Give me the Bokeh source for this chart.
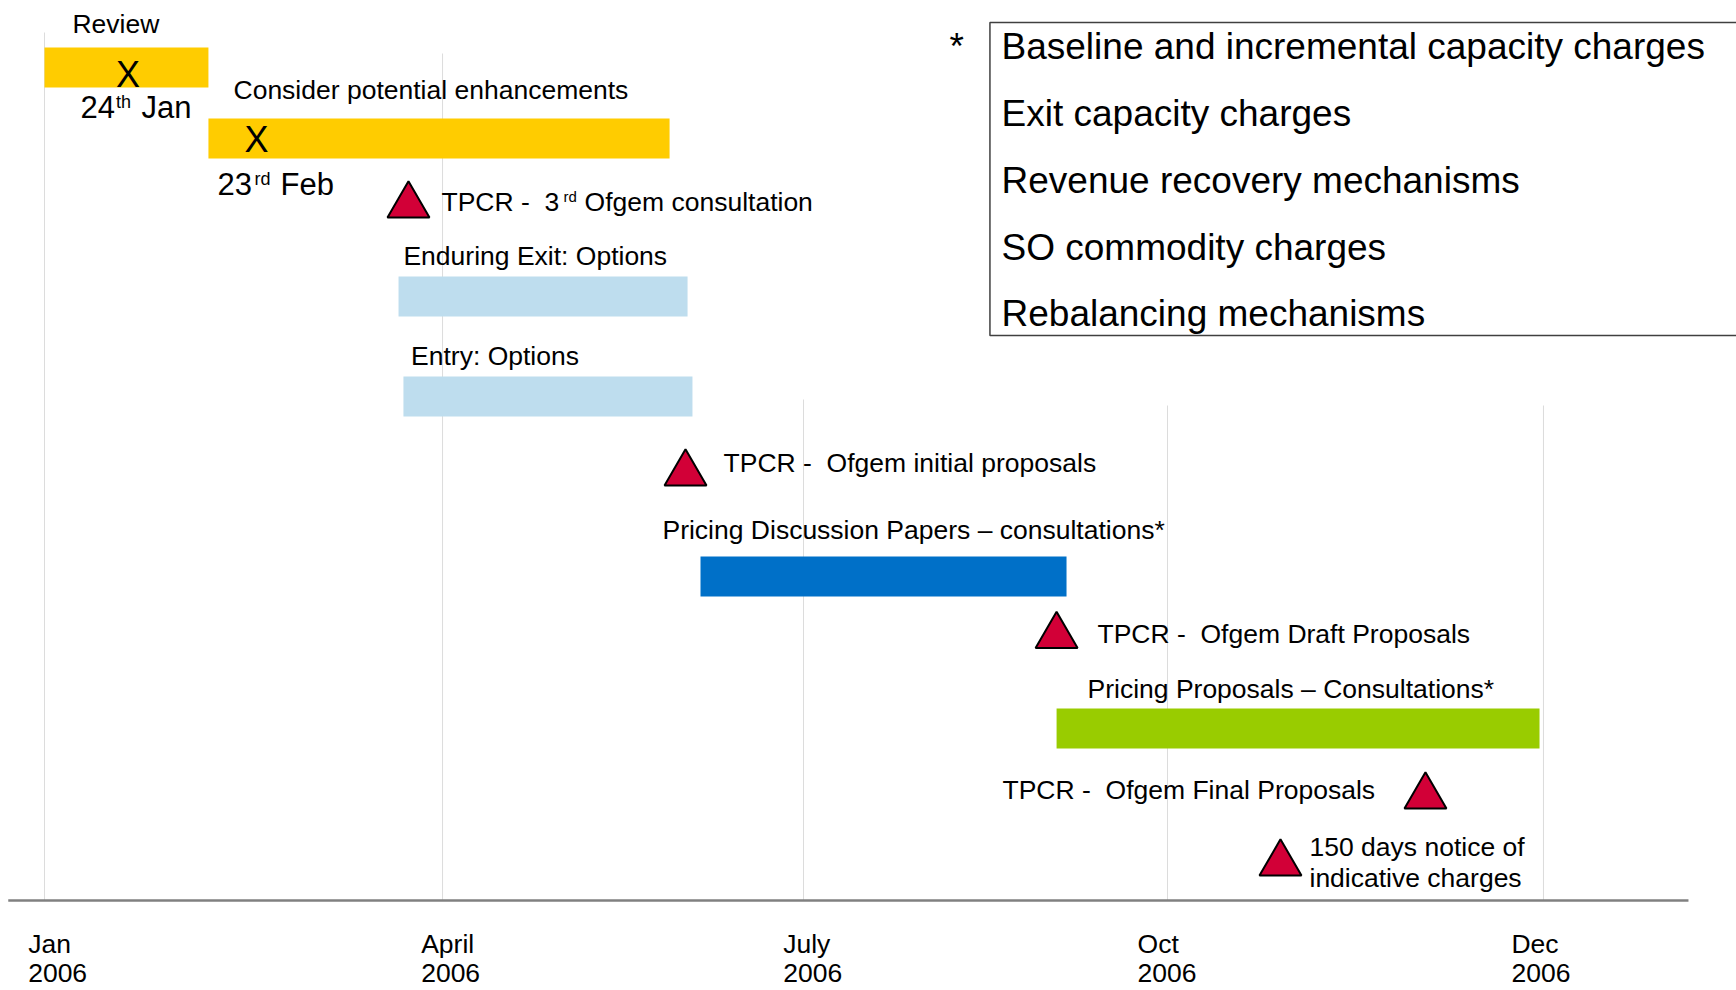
from bokeh.plotting import figure
from bokeh.models import Range1d, ColumnDataSource
from bokeh.core.properties import value
from bokeh.embed import file_html
from bokeh.resources import INLINE

# ---------------- data (timeline position in "months as drawn": Jan 2006 = 0, Dec 2006 = 11;
# vertical lane position in reference pixels, top = small) ----------------
month_names = ["Jan", "April", "July", "Oct", "Dec"]
month_years = ["2006", "2006", "2006", "2006", "2006"]
month_pos = [0.0, 2.921, 5.570, 8.241, 11.0]
month_label_pos = [-0.120, 2.764, 5.421, 8.021, 10.765]
grid_top = [32, 53, 399, 405, 405]
axis_span = [-0.266, 12.064]
axis_lane = 900

task_names = ["Review", "Consider potential enhancements", "Enduring Exit: Options",
              "Entry: Options", "Pricing Discussion Papers \u2013 consultations*",
              "Pricing Proposals \u2013 Consultations*"]
task_start = [0.0, 1.203, 2.598, 2.634, 4.814, 7.427]
task_end = [1.203, 4.587, 4.719, 4.755, 7.500, 10.971]
task_lane = [67, 138, 296, 396, 576, 728]
task_label_pos = [0.205, 1.387, 2.634, 2.690, 4.535, 7.654]
task_label_lane = [33, 99, 265, 365, 539, 698]

milestone_names = ["TPCR -  3rd Ofgem consultation", "TPCR -  Ofgem initial proposals",
                   "TPCR -  Ofgem Draft Proposals", "TPCR -  Ofgem Final Proposals",
                   "150 days notice of indicative charges"]
milestone_pos = [2.671, 4.704, 7.427, 10.134, 9.070]
milestone_lane = [205, 473, 635.5, 796, 863]

# milestone label pieces (plain part and superscript part)
ms_text = ["TPCR - \u00a03", "Ofgem consultation", "TPCR - \u00a0Ofgem initial proposals",
           "TPCR - \u00a0Ofgem Draft Proposals", "TPCR - \u00a0Ofgem Final Proposals",
           "150 days notice of", "indicative charges"]
ms_text_pos = [2.913, 3.963, 4.983, 7.727, 7.030, 9.283, 9.283]
ms_text_lane = [211, 211, 472, 643.6, 799.6, 856, 887]

# decision points on the yellow bars
x_marks = ["X", "X"]
x_mark_pos = [0.613, 1.556]
x_mark_lane = [87, 152]
date_text = ["24", "Jan", "23", "Feb"]
date_pos = [0.264, 0.712, 1.270, 1.732]
date_lane = [118, 118, 195, 195]
sup_text = ["th", "rd", "rd"]
sup_pos = [0.525, 1.541, 3.809]
sup_lane = [108, 185, 202]
sup_size = [18, 18, 15]

charge_items = ["Baseline and incremental capacity charges", "Exit capacity charges",
                "Revenue recovery mechanisms", "SO commodity charges", "Rebalancing mechanisms"]
charge_pos = 7.023
charge_lane = [59.3, 126.5, 193.5, 260.5, 327]
box_left, box_right, box_top, box_bottom = 6.938, 12.8, 22, 335
star_pos, star_lane = 6.641, 59.5

# ---------------- styles ----------------
FONT = value("Liberation Sans")
task_colors = ["#FFCC00", "#FFCC00", "#BEDDEE", "#BEDDEE", "#0070C8", "#99CC00"]
RED = "#D20037"
BASE_FIX = 0.37   # renderer places the alphabetic baseline about this many em low

W, H = 1736, 990
p = figure(width=W, height=H, output_backend="svg", toolbar_location=None,
           x_range=Range1d(-0.3229, 12.4165), y_range=Range1d(990, 0),
           x_axis_location=None, y_axis_location=None,
           min_border_left=0, min_border_right=0, min_border_top=0, min_border_bottom=0)
p.outline_line_color = None
p.xgrid.visible = False
p.ygrid.visible = False
p.background_fill_color = "white"
p.border_fill_color = "white"


def txt(xs, ys, texts, size, align="left"):
    sizes = size if isinstance(size, list) else [size] * len(texts)
    src = ColumnDataSource(dict(x=xs, y=[y - BASE_FIX * s for y, s in zip(ys, sizes)],
                                text=texts, size=["%gpx" % s for s in sizes]))
    p.text(x="x", y="y", text="text", source=src, text_font=FONT, text_font_size="size",
           text_baseline="alphabetic", text_align=align, text_color="black")


# grid lines
p.segment(x0=month_pos, y0=grid_top, x1=month_pos, y1=[axis_lane] * len(month_pos),
          line_color="#DCDCDC", line_width=1)

# axis line
p.segment(x0=[axis_span[0]], y0=[axis_lane], x1=[axis_span[1]], y1=[axis_lane],
          line_color="#808080", line_width=2.5)

# month labels
txt(month_label_pos, [953] * 5, month_names, 26.5)
txt(month_label_pos, [982] * 5, month_years, 26.5)

# bars
bars = ColumnDataSource(dict(left=task_start, right=task_end,
                             top=[v - 20 for v in task_lane], bottom=[v + 20 for v in task_lane],
                             color=task_colors, name=task_names))
p.quad(left="left", right="right", top="top", bottom="bottom", source=bars,
       fill_color="color", line_color=None)

# task labels
txt(task_label_pos, task_label_lane, task_names, 26.5)

# milestones
p.scatter(x=milestone_pos, y=milestone_lane, marker="triangle", size=42,
          fill_color=RED, line_color="black", line_width=2)
txt(ms_text_pos, ms_text_lane, ms_text, 26.5)

# X marks and dates
txt(x_mark_pos, x_mark_lane, x_marks, 36, align="center")
txt(date_pos, date_lane, date_text, 31)
txt(sup_pos, sup_lane, sup_text, sup_size)

# charges box
p.quad(left=[box_left], right=[box_right], top=[box_top], bottom=[box_bottom],
       fill_color=None, line_color="#404040", line_width=1.5)
txt([charge_pos] * len(charge_items), charge_lane, charge_items, 37)
txt([star_pos], [star_lane], ["*"], 37)

open("out.html", "w").write(file_html(p, INLINE))
